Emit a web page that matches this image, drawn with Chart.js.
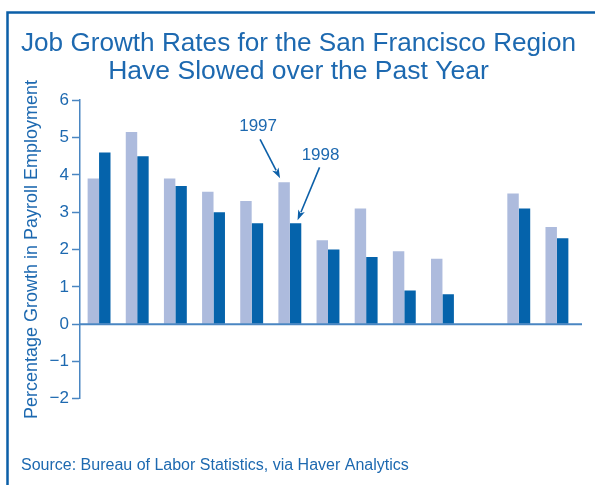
<!DOCTYPE html>
<html>
<head>
<meta charset="utf-8">
<script src="https://cdn.jsdelivr.net/npm/chart.js@4/dist/chart.umd.min.js"></script>
<style>
  html, body { margin: 0; padding: 0; background: #ffffff; }
  #wrap { width: 595px; height: 485px; }
</style>
</head>
<body>
<div id="wrap"><canvas id="jobChart" width="595" height="485"></canvas></div>
<script>
// categorias (sin etiqueta en el original), la 11 queda vacia
var categories = ["1", "2", "3", "4", "5", "6", "7", "8", "9", "10", "", "12", "13"];
var growth1997 = [3.9, 5.15, 3.9, 3.55, 3.3, 3.8, 2.25, 3.1, 1.95, 1.75, null, 3.5, 2.6];
var growth1998 = [4.6, 4.5, 3.7, 3.0, 2.7, 2.7, 2.0, 1.8, 0.9, 0.8, null, 3.1, 2.3];
var yTicks = [-2, -1, 0, 1, 2, 3, 4, 5, 6];

var blue = "#1d69b0";
var axisBlue = "#4a86c2";
var fontFamily = "'Liberation Sans', Arial, sans-serif";

// marco azul arriba e izquierda, linea del cero y flechas 1997 / 1998
var framePlugin = {
  id: "frame",
  beforeDraw: function (chart) {
    var c = chart.ctx;
    c.save();
    c.strokeStyle = "#0b5fa8";
    c.lineWidth = 2.5;
    c.beginPath();
    c.moveTo(7.5, 485);
    c.lineTo(7.5, 12.5);
    c.lineTo(595, 12.5);
    c.stroke();
    c.restore();
  },
  afterDatasetsDraw: function (chart) {
    var c = chart.ctx;
    var y0 = chart.scales.y.getPixelForValue(0);
    c.save();
    c.strokeStyle = axisBlue;
    c.lineWidth = 2;
    c.beginPath();
    c.moveTo(chart.chartArea.left, y0);
    c.lineTo(chart.chartArea.right + 6, y0);
    c.stroke();
    c.restore();

    var b97 = chart.getDatasetMeta(0).data[5];
    var b98 = chart.getDatasetMeta(1).data[5];
    function arrow(x0, y0, x1, y1, label, lx, ly) {
      var ang = Math.atan2(y1 - y0, x1 - x0);
      var head = 11;
      c.save();
      c.strokeStyle = "#0b5fa8";
      c.fillStyle = "#0b5fa8";
      c.lineWidth = 1.6;
      c.beginPath();
      c.moveTo(x0, y0);
      c.lineTo(x1 - Math.cos(ang) * head * 0.8, y1 - Math.sin(ang) * head * 0.8);
      c.stroke();
      c.beginPath();
      c.moveTo(x1, y1);
      c.lineTo(x1 - head * Math.cos(ang - 0.33), y1 - head * Math.sin(ang - 0.33));
      c.lineTo(x1 - head * 0.7 * Math.cos(ang), y1 - head * 0.7 * Math.sin(ang));
      c.lineTo(x1 - head * Math.cos(ang + 0.33), y1 - head * Math.sin(ang + 0.33));
      c.closePath();
      c.fill();
      c.fillStyle = blue;
      c.font = "17px " + fontFamily;
      c.textAlign = "center";
      c.textBaseline = "middle";
      c.fillText(label, lx, ly);
      c.restore();
    }
    var t1x = b97.x - 4, t1y = b97.y - 4;
    arrow(t1x - 20, t1y - 39, t1x, t1y, "1997", t1x - 22, t1y - 52);
    var t2x = b98.x + 2, t2y = b98.y - 3;
    arrow(t2x + 22, t2y - 53, t2x, t2y, "1998", t2x + 23, t2y - 65);
  }
};

var ctx = document.getElementById("jobChart").getContext("2d");

var myChart = new Chart(ctx, {
  type: "bar",
  data: {
    labels: categories,
    datasets: [
      {
        label: "1997",
        data: growth1997,
        backgroundColor: "#adbbdd",
        barPercentage: 1,
        categoryPercentage: 0.6
      },
      {
        label: "1998",
        data: growth1998,
        backgroundColor: "#0563ab",
        barPercentage: 1,
        categoryPercentage: 0.6
      }
    ]
  },
  plugins: [framePlugin],
  options: {
    responsive: false,
    animation: false,
    layout: {
      padding: { left: 21, right: 19, top: 0, bottom: 0 }
    },
    scales: {
      x: {
        display: false
      },
      y: {
        min: -2,
        max: 6,
        afterBuildTicks: function (axis) {
          axis.ticks = yTicks.map(function (v) { return { value: v }; });
        },
        ticks: {
          color: blue,
          padding: 3,
          font: { family: fontFamily, size: 17 },
          callback: function (v) { return String(v).replace("-", "\u2212"); }
        },
        grid: {
          drawOnChartArea: false,
          tickColor: axisBlue,
          tickLength: 8,
          tickWidth: 1.5
        },
        border: {
          color: axisBlue,
          width: 1.5
        },
        title: {
          display: true,
          text: "Percentage Growth in Payroll Employment",
          color: blue,
          padding: { top: 0, bottom: 4 },
          font: { family: fontFamily, size: 18 }
        }
      }
    },
    plugins: {
      legend: { display: false },
      tooltip: { enabled: false },
      title: {
        display: true,
        text: ["Job Growth Rates for the San Francisco Region", "Have Slowed over the Past Year"],
        color: blue,
        padding: { top: 30, bottom: 14 },
        font: { family: fontFamily, size: 26.5, weight: "normal", lineHeight: 1.06 }
      },
      subtitle: {
        display: true,
        position: "bottom",
        align: "start",
        text: "Source: Bureau of Labor Statistics, via Haver Analytics",
        color: blue,
        padding: { top: 57, bottom: 10 },
        font: { family: fontFamily, size: 16 }
      }
    }
  }
});
</script>
</body>
</html>
